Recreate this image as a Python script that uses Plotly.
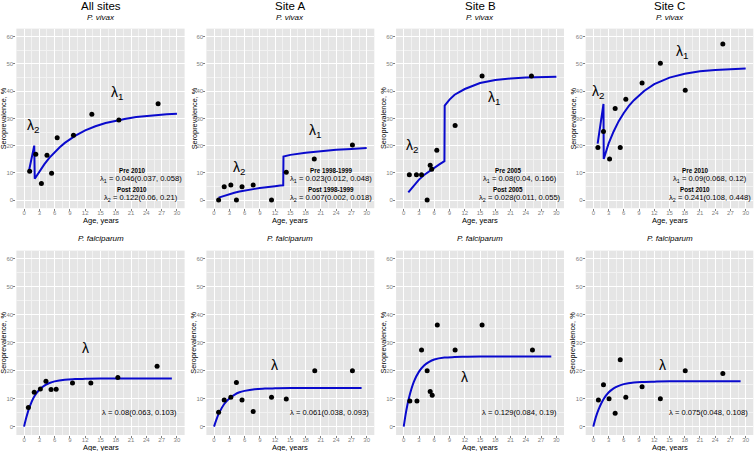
import plotly.graph_objects as go

# ---- data ----
titles = ["All sites", "Site A", "Site B", "Site C"]
species = ["P. vivax", "P. falciparum"]

# P. vivax (top row)
all_vivax_age = [1.1, 2.3, 3.4, 4.5, 5.4, 6.5, 9.7, 13.3, 18.6, 26.3]
all_vivax_sero = [10.6, 16.8, 6.1, 16.5, 9.8, 22.9, 23.8, 31.5, 29.4, 35.4]
a_vivax_age = [0.9, 2.0, 3.3, 4.4, 5.5, 7.7, 11.3, 14.2, 19.7, 27.2]
a_vivax_sero = [0.0, 4.9, 5.5, 0.0, 4.9, 5.5, 0.0, 10.2, 15.1, 20.2]
b_vivax_age = [1.1, 2.5, 3.5, 4.6, 5.2, 5.5, 6.5, 10.1, 15.4, 25.1]
b_vivax_sero = [9.3, 9.3, 9.3, 0.0, 12.8, 11.3, 18.3, 27.4, 45.6, 45.6]
c_vivax_age = [0.9, 2.0, 3.2, 4.3, 5.3, 6.4, 9.6, 13.2, 18.1, 25.5]
c_vivax_sero = [19.3, 25.2, 15.1, 33.6, 19.3, 37.0, 43.0, 50.3, 40.3, 57.3]

# P. falciparum (bottom row)
all_falc_age = [0.85, 2.0, 3.2, 4.3, 5.3, 6.3, 9.5, 13.1, 18.4, 26.1]
all_falc_sero = [6.8, 12.3, 13.5, 16.2, 13.3, 13.4, 15.6, 15.6, 17.6, 21.6]
a_falc_age = [0.9, 2.0, 3.3, 4.4, 5.5, 7.7, 11.3, 14.2, 19.8, 27.2]
a_falc_sero = [5.1, 9.5, 10.5, 15.8, 9.5, 5.4, 10.5, 9.9, 20.0, 20.0]
b_falc_age = [1.2, 2.6, 3.5, 4.6, 5.2, 5.6, 6.6, 10.1, 15.4, 25.3]
b_falc_sero = [9.2, 9.2, 27.4, 20.0, 12.6, 11.2, 36.4, 27.4, 36.4, 27.4]
c_falc_age = [1.0, 2.0, 3.1, 4.3, 5.3, 6.4, 9.6, 13.2, 18.1, 25.5]
c_falc_sero = [9.5, 15.0, 10.0, 4.8, 23.9, 10.5, 14.3, 10.0, 20.0, 19.0]

# fitted curves
all_vivax_fit_x = [0.95, 1.5, 2.0, 2.1, 3, 4, 5, 6, 7, 8, 10, 12, 14, 16, 18, 20, 22, 24, 26, 28, 30]
all_vivax_fit_y = [10.6, 15.4, 20.0, 7.8, 10.5, 13.2, 15.6, 17.6, 19.4, 21.0, 23.6, 25.6, 27.1,
                   28.3, 29.2, 29.9, 30.5, 30.9, 31.2, 31.5, 31.7]
a_vivax_fit_x = [0.9, 2, 3, 4, 5, 6, 7, 8, 9, 10, 11, 12, 13, 13.6, 13.65, 15, 18, 21, 24, 27, 30]
a_vivax_fit_y = [0.9, 1.6, 2.2, 2.7, 3.1, 3.5, 3.8, 4.1, 4.4, 4.7, 4.9, 5.1, 5.3, 5.4,
                 16.0, 16.6, 17.4, 18.0, 18.5, 18.8, 19.1]
b_vivax_fit_x = [0.9, 2, 3, 4, 5, 6, 7, 8, 8.05, 9, 10, 12, 15, 18, 21, 24, 27, 30]
b_vivax_fit_y = [2.8, 5.4, 7.5, 9.2, 10.6, 11.8, 13.1, 14.3, 34.7, 36.9, 38.7, 40.8,
                 43.0, 44.1, 44.7, 45.0, 45.2, 45.3]
c_vivax_fit_x = [0.85, 2.0, 2.05, 3, 4, 5, 6, 7, 8, 9, 10, 12, 15, 18, 21, 24, 27, 30]
c_vivax_fit_y = [20.7, 35.3, 15.1, 20.7, 25.2, 29.0, 32.0, 34.6, 36.7, 38.5, 40.1, 42.6,
                 45.0, 46.4, 47.3, 47.8, 48.1, 48.3]

falc_fit_x = [0, 0.5, 1, 2, 3, 4, 5, 6, 8, 10, 12, 15, 20, 25, 29]
all_falc_fit_y = [0, 3.6, 6.6, 10.8, 13.2, 14.7, 15.6, 16.2, 16.8, 17.0, 17.1, 17.2, 17.2, 17.2, 17.2]
a_falc_fit_y = [0, 2.7, 4.9, 8.1, 10.1, 11.4, 12.3, 12.8, 13.4, 13.6, 13.7, 13.8, 13.8, 13.8, 13.8]
b_falc_fit_y = [0, 5.7, 10.1, 16.1, 19.7, 21.9, 23.2, 24.0, 24.7, 24.9, 25.0, 25.1, 25.1, 25.1, 25.1]
c_falc_fit_y = [0, 3.4, 6.0, 9.8, 12.2, 13.7, 14.6, 15.2, 15.8, 16.0, 16.1, 16.2, 16.2, 16.2, 16.2]

vivax_periods = ["2010", "1998-1999", "2005", "2010"]
vivax_l1 = ["0.046(0.037, 0.058)", "0.023(0.012, 0.048)", "0.08(0.04, 0.166)", "0.09(0.068, 0.12)"]
vivax_l2 = ["0.122(0.06, 0.21)", "0.007(0.002, 0.018)", "0.028(0.011, 0.055)", "0.241(0.108, 0.448)"]
falc_l = ["0.08(0.063, 0.103)", "0.061(0.038, 0.093)", "0.129(0.084, 0.19)", "0.075(0.048, 0.108)"]

points_x = [all_vivax_age, a_vivax_age, b_vivax_age, c_vivax_age,
            all_falc_age, a_falc_age, b_falc_age, c_falc_age]
points_y = [all_vivax_sero, a_vivax_sero, b_vivax_sero, c_vivax_sero,
            all_falc_sero, a_falc_sero, b_falc_sero, c_falc_sero]
fits_x = [all_vivax_fit_x, a_vivax_fit_x, b_vivax_fit_x, c_vivax_fit_x] + [falc_fit_x] * 4
fits_y = [all_vivax_fit_y, a_vivax_fit_y, b_vivax_fit_y, c_vivax_fit_y,
          all_falc_fit_y, a_falc_fit_y, b_falc_fit_y, c_falc_fit_y]

# ---- layout ----
W, H = 754, 451
FONT = "Liberation Sans, Arial, sans-serif"
GREY_TXT = "#7F7F7F"
col_px = [(16.4, 184.6), (206.4, 374.3), (396.1, 564.0), (585.7, 753.3)]
row_px = [(28.6, 208.2), (250.6, 435.0)]

# lambda label positions (data coords)
vivax_lab1 = [(18.2, 39.2), (19.8, 25.2), (17.8, 37.5), (17.5, 54.4)]
vivax_lab2 = [(1.8, 27.2), (5.0, 11.7), (1.6, 20.0), (1.0, 39.6)]
falc_lab = [(12.0, 28.0), (11.9, 22.0), (11.9, 17.8), (13.7, 22.0)]
pre_x = [21.2, 23.0, 20.4, 20.1]


def note(text, x, y, xref, yref, size, **kw):
    return dict(text=text, x=x, y=y, xref=xref, yref=yref, showarrow=False,
                xanchor="center", yanchor="middle",
                font=dict(size=size, color="black", family=FONT), **kw)


fig = go.Figure()
annotations = []

for i in range(8):
    r, c = divmod(i, 4)
    n = i + 1
    xa = "x" if n == 1 else f"x{n}"
    ya = "y" if n == 1 else f"y{n}"

    fig.add_trace(go.Scatter(
        x=fits_x[i], y=fits_y[i], mode="lines",
        line=dict(color="#0A0ACD", width=2,
                  shape="spline" if r == 1 else "linear"),
        xaxis=xa, yaxis=ya, showlegend=False, hoverinfo="skip"))
    fig.add_trace(go.Scatter(
        x=points_x[i], y=points_y[i], mode="markers",
        marker=dict(color="black", size=5),
        xaxis=xa, yaxis=ya, showlegend=False))

    x0, x1 = col_px[c]
    y0, y1 = row_px[r]
    axis_common = dict(
        showgrid=True, gridcolor="white", gridwidth=1,
        zeroline=False, showline=False,
        ticks="outside", ticklen=2, tickwidth=1, tickcolor=GREY_TXT,
        tickfont=dict(size=6, color=GREY_TXT, family=FONT),
        fixedrange=True,
    )
    fig.layout[f"xaxis{n}"] = dict(
        axis_common, domain=[x0 / W, x1 / W], anchor=ya,
        range=[-1.5, 31.5], tickvals=list(range(0, 31, 3)),
        ticklabelstandoff=-3,
        minor=dict(tickvals=[v + 1.5 for v in range(-3, 31, 3)],
                   showgrid=True, gridcolor="#F2F2F2", gridwidth=0.5),
    )
    fig.layout[f"yaxis{n}"] = dict(
        axis_common, domain=[1 - y1 / H, 1 - y0 / H], anchor=xa,
        range=[-3, 63], tickvals=list(range(0, 61, 10)),
        ticklabelstandoff=-1,
        minor=dict(tickvals=list(range(5, 61, 10)),
                   showgrid=True, gridcolor="#F2F2F2", gridwidth=0.5),
    )

    # axis titles
    annotations.append(note("Age, years", (x0 + x1) / 2 / W, 1 - (y1 + 12.2) / H,
                            "paper", "paper", 7.5))
    annotations.append(note("Seroprevalence, %", (x0 - 12.5) / W, 1 - (y0 + y1) / 2 / H,
                            "paper", "paper", 7.3, textangle=-90))

    if r == 0:
        annotations.append(note(titles[c], (x0 + x1) / 2 / W, 1 - 5.5 / H,
                                "paper", "paper", 11.5))
        annotations.append(note(f"<i>{species[0]}</i>", (x0 + x1) / 2 / W, 1 - 17 / H,
                                "paper", "paper", 8))
        lx, ly = vivax_lab1[c]
        annotations.append(note("λ<sub>1</sub>", lx, ly, xa, ya, 14))
        lx, ly = vivax_lab2[c]
        annotations.append(note("λ<sub>2</sub>", lx, ly, xa, ya, 14))
        annotations.append(note(f"<b>Pre {vivax_periods[c]}</b>", pre_x[c], 11.0, xa, ya, 6.3))
        annotations.append(note(f"λ<sub>1</sub> = {vivax_l1[c]}", 22.9, 7.8, xa, ya, 7.6))
        annotations.append(note(f"<b>Post {vivax_periods[c]}</b>", pre_x[c], 3.9, xa, ya, 6.3))
        annotations.append(note(f"λ<sub>2</sub> = {vivax_l2[c]}", 22.9, 0.8, xa, ya, 7.6))
    else:
        annotations.append(note(f"<i>{species[1]}</i>", (x0 + x1) / 2 / W, 1 - 238 / H,
                                "paper", "paper", 8))
        lx, ly = falc_lab[c]
        annotations.append(note("λ", lx, ly, xa, ya, 14))
        annotations.append(note(f"λ = {falc_l[c]}", 22.7, 5.0, xa, ya, 7.6))

fig.update_layout(
    width=W, height=H,
    margin=dict(l=0, r=0, t=0, b=0),
    paper_bgcolor="white",
    plot_bgcolor="#E5E5E5",
    font=dict(family=FONT),
    annotations=annotations,
    showlegend=False,
)

# drop the page's default body margin so the 754x451 figure fills the window
fig.write_html("out.html", config={"displayModeBar": False},
               post_script="document.body.style.margin='0';document.body.style.overflow='hidden';")
